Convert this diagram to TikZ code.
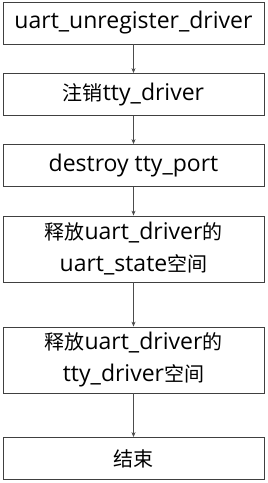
\documentclass[tikz,border=0pt]{standalone}
\usepackage{fontspec}
\setmainfont{Open Sans}
\newfontfamily\cjkfont{Noto Sans CJK SC}
\newcommand\zh[1]{{\cjkfont\fontsize{20pt}{28pt}\selectfont #1}}
\usetikzlibrary{arrows.meta,positioning}

\begin{document}
\begin{tikzpicture}[x=1pt,y=-1pt,>={Stealth[length=5pt,width=4pt]},
  stepbox/.style={draw=black!75,line width=.8pt,minimum width=261pt,minimum height=42pt,align=center,inner sep=0pt,font=\fontsize{23pt}{28pt}\selectfont},
  tallbox/.style={stepbox,minimum height=66pt},
  flow/.style={->,draw=black!70,line width=.7pt}]
\useasboundingbox (0,0) rectangle (268,483);
\node[stepbox] (unreg) at (133.5,23) {uart\_unregister\_driver};
\node[stepbox] (ttydrv) at (133.5,94.5) {\zh{注销}tty\_driver};
\node[stepbox] (port) at (133.5,165.5) {destroy tty\_port};
\node[tallbox] (state) at (133.5,249) {\zh{释放}uart\_driver\zh{的}\\[4pt]uart\_state\zh{空间}};
\node[tallbox] (freedrv) at (133.5,360) {\zh{释放}uart\_driver\zh{的}\\[4pt]tty\_driver\zh{空间}};
\node[stepbox] (done) at (133.5,458.5) {\zh{结束}};
\draw[flow] (unreg)--(ttydrv);
\draw[flow] (ttydrv)--(port);
\draw[flow] (port)--(state);
\draw[flow] (state)--(freedrv);
\draw[flow] (freedrv)--(done);
\end{tikzpicture}
\end{document}
